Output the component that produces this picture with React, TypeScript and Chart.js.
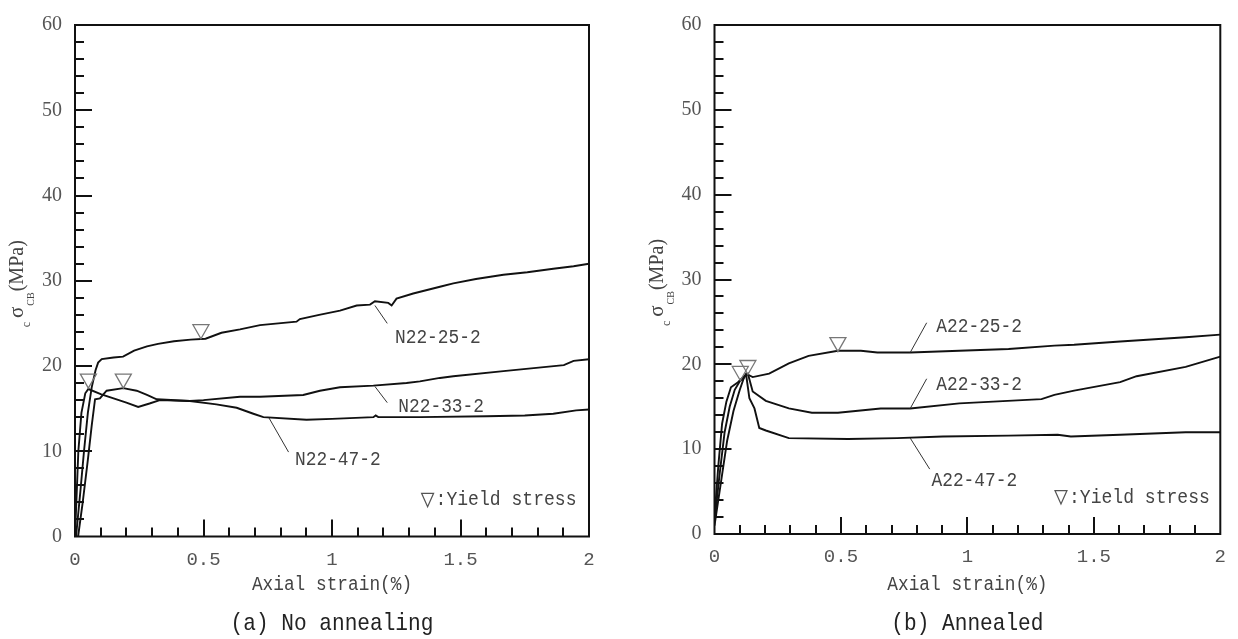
import React, { useEffect, useRef } from "react";
import { Chart, registerables } from "chart.js";

Chart.register(...registerables);

// ---------- (a) No annealing ----------
const n22_25_2_strain = [0.004, 0.02, 0.035, 0.05, 0.065, 0.08, 0.09, 0.104, 0.15, 0.187, 0.23, 0.28, 0.323, 0.385, 0.45, 0.508, 0.57, 0.642, 0.72, 0.862, 0.875, 0.95, 1.031, 1.096, 1.148, 1.167, 1.219, 1.232, 1.251, 1.316, 1.42, 1.472, 1.56, 1.667, 1.76, 1.861, 1.94, 2.0];
const n22_25_2_stress = [0, 5, 10, 14.5, 17.5, 19.5, 20.4, 20.8, 21.0, 21.1, 21.8, 22.3, 22.6, 22.9, 23.1, 23.2, 23.9, 24.3, 24.8, 25.2, 25.5, 26.0, 26.5, 27.1, 27.2, 27.6, 27.4, 27.1, 27.9, 28.5, 29.3, 29.7, 30.2, 30.7, 31.0, 31.4, 31.7, 32.0];

const n22_33_2_strain = [0, 0.013, 0.025, 0.04, 0.052, 0.1, 0.15, 0.2, 0.246, 0.29, 0.33, 0.447, 0.5, 0.642, 0.72, 0.888, 0.953, 1.031, 1.161, 1.29, 1.342, 1.42, 1.472, 1.667, 1.902, 1.94, 2.0];
const n22_33_2_stress = [0, 10, 14.5, 16.8, 17.3, 16.7, 16.2, 15.7, 15.2, 15.6, 16.0, 15.9, 16.0, 16.4, 16.4, 16.6, 17.1, 17.5, 17.7, 18.0, 18.2, 18.6, 18.8, 19.4, 20.1, 20.6, 20.8];

const n22_47_2_strain = [0.012, 0.03, 0.05, 0.065, 0.078, 0.097, 0.123, 0.188, 0.24, 0.28, 0.318, 0.447, 0.55, 0.629, 0.694, 0.733, 0.901, 1.0, 1.161, 1.17, 1.18, 1.342, 1.602, 1.75, 1.861, 1.95, 2.0];
const n22_47_2_stress = [0, 4, 9, 13, 16.1, 16.2, 17.1, 17.4, 17.1, 16.6, 16.1, 15.9, 15.5, 15.1, 14.4, 14.0, 13.7, 13.8, 14.0, 14.2, 14.0, 14.0, 14.1, 14.2, 14.4, 14.8, 14.9];

const yieldA_strain = [0.052, 0.188, 0.49];
const yieldA_stress = [17.4, 17.4, 23.2];

// ---------- (b) Annealed ----------
const a22_25_2_strain = [0, 0.025, 0.05, 0.075, 0.1, 0.115, 0.125, 0.151, 0.216, 0.294, 0.372, 0.488, 0.579, 0.644, 0.774, 0.968, 1.163, 1.344, 1.422, 1.604, 1.863, 2.0];
const a22_25_2_stress = [1, 6, 11, 14.5, 17, 18.3, 18.9, 18.5, 18.9, 20.1, 21.0, 21.6, 21.6, 21.4, 21.4, 21.6, 21.8, 22.2, 22.3, 22.7, 23.2, 23.5];

const a22_33_2_strain = [0, 0.02, 0.04, 0.06, 0.08, 0.1, 0.12, 0.132, 0.151, 0.203, 0.294, 0.385, 0.488, 0.657, 0.774, 0.968, 1.293, 1.344, 1.422, 1.604, 1.669, 1.863, 2.0];
const a22_33_2_stress = [1.5, 7, 12, 15, 17, 18, 18.6, 18.9, 16.8, 15.7, 14.8, 14.3, 14.3, 14.8, 14.8, 15.4, 15.9, 16.4, 16.9, 17.9, 18.6, 19.7, 20.9];

const a22_47_2_strain = [0, 0.015, 0.03, 0.047, 0.065, 0.093, 0.11, 0.125, 0.138, 0.158, 0.177, 0.203, 0.294, 0.527, 0.722, 0.903, 1.163, 1.357, 1.409, 1.604, 1.863, 2.0];
const a22_47_2_stress = [2, 8, 13, 15.6, 17.3, 17.9, 18.4, 18.8, 16.0, 14.8, 12.5, 12.2, 11.3, 11.2, 11.3, 11.5, 11.6, 11.7, 11.5, 11.7, 12.0, 12.0];

const yieldB_strain = [0.102, 0.132, 0.488];
const yieldB_stress = [18.1, 18.8, 21.5];

// axis ranges / tick steps
const X_MIN = 0, X_MAX = 2, X_STEP = 0.5, X_MINOR = 0.1;
const Y_MIN = 0, Y_MAX = 60, Y_STEP = 10, Y_MINOR = 2;

const X_TITLE = "Axial strain(%)";
const LEGEND_TEXT = ":Yield stress";

type Label = { text: string; from: [number, number]; to: [number, number]; at: [number, number] };

const labelsA: Label[] = [
  { text: "N22-25-2", from: [1.167, 27.1], to: [1.215, 25.0], at: [1.245, 23.4] },
  { text: "N22-33-2", from: [1.167, 17.6], to: [1.215, 15.7], at: [1.258, 15.2] },
  { text: "N22-47-2", from: [0.755, 13.9], to: [0.831, 9.9], at: [0.856, 9.0] },
];
const labelsB: Label[] = [
  { text: "A22-25-2", from: [0.774, 21.4], to: [0.839, 24.9], at: [0.877, 24.5] },
  { text: "A22-33-2", from: [0.774, 14.8], to: [0.839, 18.3], at: [0.877, 17.6] },
  { text: "A22-47-2", from: [0.774, 11.3], to: [0.851, 7.65], at: [0.858, 6.3] },
];

const zip = (xs: number[], ys: number[]) => xs.map((x, i) => ({ x, y: ys[i] }));

const panels = [
  {
    key: "a",
    left: 0,
    yAxisWidth: 75,
    padTop: 22.5,
    padRight: 30,
    xAxisHeight: 102.5,
    series: [
      zip(n22_25_2_strain, n22_25_2_stress),
      zip(n22_33_2_strain, n22_33_2_stress),
      zip(n22_47_2_strain, n22_47_2_stress),
    ],
    names: ["N22-25-2", "N22-33-2", "N22-47-2"],
    yieldX: yieldA_strain,
    yieldY: yieldA_stress,
    labels: labelsA,
    legendAt: [1.372, 4.3] as [number, number],
    subtitle: "(a) No annealing",
  },
  {
    key: "b",
    left: 619,
    yAxisWidth: 95.5,
    padTop: 19,
    padRight: 10,
    xAxisHeight: 105,
    series: [
      zip(a22_25_2_strain, a22_25_2_stress),
      zip(a22_33_2_strain, a22_33_2_stress),
      zip(a22_47_2_strain, a22_47_2_stress),
    ],
    names: ["A22-25-2", "A22-33-2", "A22-47-2"],
    yieldX: yieldB_strain,
    yieldY: yieldB_stress,
    labels: labelsB,
    legendAt: [1.37, 4.35] as [number, number],
    subtitle: "(b) Annealed",
  },
];

type PanelCfg = (typeof panels)[number];

// draw condensed (tall, narrow) monospace text, like the half-width glyphs of the original
function condensedText(ctx: any, text: string, x: number, y: number, size: number, sx: number, align: string) {
  ctx.save();
  ctx.font = `${size}px "Liberation Mono"`;
  const w = ctx.measureText(text).width * sx;
  let x0 = x;
  if (align === "center") x0 = x - w / 2;
  ctx.translate(x0, y);
  ctx.scale(sx, 1);
  ctx.textAlign = "left";
  ctx.fillText(text, 0, 0);
  ctx.restore();
}

function makePlugin(p: PanelCfg) {
  return {
    id: "panelDecor" + p.key,
    afterDraw(chart: any) {
      const { ctx, chartArea: a, scales } = chart;
      const xs = scales.x;
      const ys = scales.y;
      const px = (v: number) => xs.getPixelForValue(v);
      const py = (v: number) => ys.getPixelForValue(v);
      ctx.save();

      // frame
      ctx.strokeStyle = "#111";
      ctx.lineWidth = 2;
      ctx.strokeRect(a.left, a.top, a.right - a.left, a.bottom - a.top);

      // inward ticks
      ctx.beginPath();
      const nY = Math.round((Y_MAX - Y_MIN) / Y_MINOR);
      for (let i = 1; i < nY; i++) {
        const v = Y_MIN + i * Y_MINOR;
        const major = Math.abs(v / Y_STEP - Math.round(v / Y_STEP)) < 1e-6;
        const y = Math.round(py(v));
        ctx.moveTo(a.left, y);
        ctx.lineTo(a.left + (major ? 17 : 9), y);
      }
      const nX = Math.round((X_MAX - X_MIN) / X_MINOR);
      for (let i = 1; i < nX; i++) {
        const v = X_MIN + i * X_MINOR;
        const major = Math.abs(v / X_STEP - Math.round(v / X_STEP)) < 1e-6;
        const x = Math.round(px(v));
        ctx.moveTo(x, a.bottom);
        ctx.lineTo(x, a.bottom - (major ? 17 : 9));
      }
      ctx.stroke();

      // yield markers (apex at the yield point)
      ctx.strokeStyle = "#777";
      ctx.lineWidth = 1.3;
      p.yieldX.forEach((sx, i) => {
        const x = px(sx);
        const y = py(p.yieldY[i]);
        ctx.beginPath();
        ctx.moveTo(x, y);
        ctx.lineTo(x - 8, y - 14);
        ctx.lineTo(x + 8, y - 14);
        ctx.closePath();
        ctx.stroke();
      });

      // curve labels with leader lines
      ctx.strokeStyle = "#333";
      ctx.lineWidth = 1;
      ctx.fillStyle = "#444";
      ctx.textBaseline = "middle";
      p.labels.forEach((l) => {
        ctx.beginPath();
        ctx.moveTo(px(l.from[0]), py(l.from[1]));
        ctx.lineTo(px(l.to[0]), py(l.to[1]));
        ctx.stroke();
        condensedText(ctx, l.text, px(l.at[0]), py(l.at[1]), 21, 0.85, "left");
      });

      // legend
      const lx = px(p.legendAt[0]);
      const ly = py(p.legendAt[1]);
      ctx.strokeStyle = "#555";
      ctx.lineWidth = 1.2;
      ctx.beginPath();
      ctx.moveTo(lx, ly + 7);
      ctx.lineTo(lx - 6, ly - 6.5);
      ctx.lineTo(lx + 6, ly - 6.5);
      ctx.closePath();
      ctx.stroke();
      ctx.fillStyle = "#444";
      condensedText(ctx, LEGEND_TEXT, lx + 8, ly, 21, 0.86, "left");

      // x title and subtitle
      const cx = (a.left + a.right) / 2;
      ctx.fillStyle = "#444";
      condensedText(ctx, X_TITLE, cx, 585, 20, 0.89, "center");
      ctx.fillStyle = "#222";
      condensedText(ctx, p.subtitle, cx, 624, 24, 0.88, "center");

      // y title: c σ CB (MPa), rotated
      ctx.save();
      ctx.translate(a.left - 52, (a.top + a.bottom) / 2 + 3);
      ctx.rotate(-Math.PI / 2);
      ctx.textAlign = "left";
      ctx.textBaseline = "alphabetic";
      ctx.fillStyle = "#444";
      const runs = [
        { t: "c", f: '12px "Liberation Serif"', dy: 7, gap: 4 },
        { t: "σ", f: '21px "Liberation Serif"', dy: 0, gap: 1 },
        { t: "CB", f: '10px "Liberation Serif"', dy: 11, gap: 1 },
        { t: "(MPa)", f: '20px "Liberation Serif"', dy: 0, gap: 0 },
      ];
      let total = 0;
      runs.forEach((r) => {
        ctx.font = r.f;
        total += ctx.measureText(r.t).width + r.gap;
      });
      let x0 = -total / 2;
      runs.forEach((r) => {
        ctx.font = r.f;
        ctx.fillText(r.t, x0, r.dy);
        x0 += ctx.measureText(r.t).width + r.gap;
      });
      ctx.restore();

      ctx.restore();
    },
  };
}

function Panel({ p }: { p: PanelCfg }) {
  const ref = useRef<HTMLCanvasElement>(null);
  useEffect(() => {
    const canvas = ref.current;
    if (!canvas) return;
    const chart = new Chart(canvas, {
      type: "scatter",
      data: {
        datasets: p.series.map((d, i) => ({
          label: p.names[i],
          data: d,
          showLine: true,
          borderColor: "#111",
          backgroundColor: "#111",
          borderWidth: 1.9,
          pointRadius: 0,
          pointHoverRadius: 0,
          tension: 0,
        })),
      },
      options: {
        responsive: false,
        animation: false,
        devicePixelRatio: 1,
        events: [],
        layout: { padding: { left: 0, top: p.padTop, right: p.padRight, bottom: 0 } },
        plugins: { legend: { display: false }, tooltip: { enabled: false }, title: { display: false } },
        scales: {
          x: {
            type: "linear",
            min: X_MIN,
            max: X_MAX,
            afterFit: (s: any) => {
              s.height = p.xAxisHeight;
            },
            grid: { display: false, drawTicks: false },
            border: { display: false },
            ticks: {
              stepSize: X_STEP,
              padding: 12,
              maxRotation: 0,
              autoSkip: false,
              color: "#555",
              font: { family: '"Liberation Mono"', size: 19 },
              callback: (v: any) => String(Math.round(Number(v) * 10) / 10),
            },
          },
          y: {
            type: "linear",
            min: Y_MIN,
            max: Y_MAX,
            afterFit: (s: any) => {
              s.width = p.yAxisWidth;
            },
            grid: { display: false, drawTicks: false },
            border: { display: false },
            ticks: {
              stepSize: Y_STEP,
              padding: 13,
              color: "#555",
              font: { family: '"Liberation Serif"', size: 20 },
            },
          },
        },
      },
      plugins: [makePlugin(p)],
    } as any);
    return () => chart.destroy();
  }, [p]);
  return (
    <canvas
      ref={ref}
      width={619}
      height={639}
      style={{ position: "absolute", left: p.left, top: 0, width: 619, height: 639, display: "block" }}
    />
  );
}

export default function App() {
  return (
    <div style={{ position: "absolute", left: 0, top: 0, width: 1238, height: 639, background: "#fff", overflow: "hidden" }}>
      {panels.map((p) => (
        <Panel key={p.key} p={p} />
      ))}
    </div>
  );
}
